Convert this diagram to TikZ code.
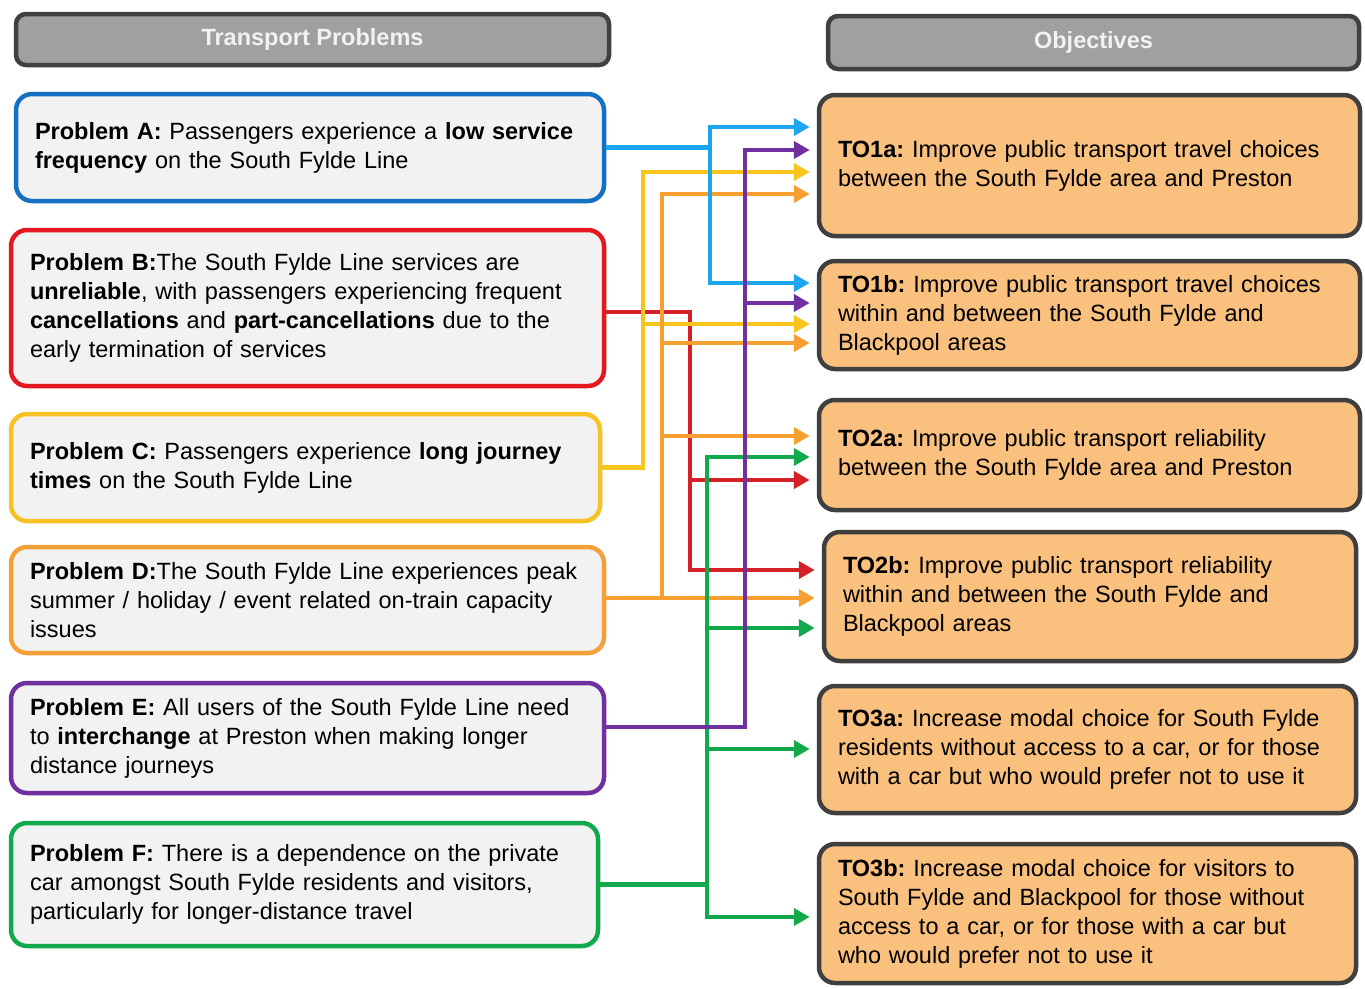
\documentclass[tikz,border=0pt]{standalone}
\usepackage{fontspec}
\setmainfont{Liberation Sans}
\usetikzlibrary{arrows.meta,calc}
\frenchspacing
\definecolor{hdrfill}{HTML}{A0A0A0}
\definecolor{hdrline}{HTML}{404040}
\definecolor{lfill}{HTML}{F2F2F2}
\definecolor{rfill}{HTML}{FAC07E}
\definecolor{rline}{HTML}{3F3F3F}
\definecolor{cA}{HTML}{1570C4}
\definecolor{cB}{HTML}{E5171F}
\definecolor{cC}{HTML}{F6C224}
\definecolor{cD}{HTML}{F4A03A}
\definecolor{cE}{HTML}{7030A0}
\definecolor{cF}{HTML}{12A84C}
\definecolor{aA}{HTML}{1AA7F0}
\definecolor{aB}{HTML}{D42027}
\definecolor{aC}{HTML}{F8C51C}
\definecolor{aD}{HTML}{F79F30}
\definecolor{aE}{HTML}{7030A0}
\definecolor{aF}{HTML}{12A84C}
\begin{document}
\begin{tikzpicture}[x=1pt,y=-1pt,
  hdr/.style={draw=hdrline, fill=hdrfill, line width=4.5pt, rounded corners=10pt,
    text=white!95!black, font=\fontsize{23.5}{27}\selectfont\bfseries, inner sep=0pt},
  lbox/.style={fill=lfill, line width=4.5pt, rounded corners=16pt, inner sep=0pt,
    align=left, font=\fontsize{23.5}{29}\selectfont\frenchspacing},
  rbox/.style={draw=rline, fill=rfill, line width=4.5pt, rounded corners=16pt, inner sep=0pt,
    align=left, font=\fontsize{23.5}{29}\selectfont\frenchspacing},
  arr/.style={line width=4.5pt, -{Triangle[length=16pt,width=17pt]}, shorten >=7pt},
]
\useasboundingbox (0,0) rectangle (1365,988);
\fill[white] (0,0) rectangle (1365,988);

% headers
\node[hdr, minimum width=593pt, minimum height=51pt] (hP) at (312.5,39.5) {Transport Problems};
\node[hdr, minimum width=531pt, minimum height=53pt] (hO) at (1093.5,42.5) {Objectives};

% problem boxes
\node[lbox, draw=cA, minimum width=588pt, minimum height=107pt, text width=550pt] (pA) at (310,147.5)
 {\textbf{Problem A:} Passengers experience a \textbf{low service}\\\textbf{frequency} on the South Fylde Line};
\node[lbox, draw=cB, minimum width=593pt, minimum height=156pt, text width=555pt] (pB) at (307.5,308)
 {\textbf{Problem B:}The South Fylde Line services are\\\textbf{unreliable}, with passengers experiencing frequent\\\textbf{cancellations} and \textbf{part-cancellations} due to the\\early termination of services};
\node[lbox, draw=cC, minimum width=589pt, minimum height=107pt, text width=551pt] (pC) at (305.5,467.5)
 {\textbf{Problem C:} Passengers experience \textbf{long journey}\\\textbf{times} on the South Fylde Line};
\node[lbox, draw=cD, minimum width=593pt, minimum height=106pt, text width=555pt] (pD) at (307.5,600)
 {\textbf{Problem D:}The South Fylde Line experiences peak\\summer / holiday / event related on-train capacity\\issues};
\node[lbox, draw=cE, minimum width=593pt, minimum height=110pt, text width=555pt] (pE) at (307.5,738)
 {\textbf{Problem E:} All users of the South Fylde Line need\\to \textbf{interchange} at Preston when making longer\\distance journeys};
\node[lbox, draw=cF, minimum width=587pt, minimum height=123pt, text width=549pt] (pF) at (304.5,884.5)
 {\textbf{Problem F:} There is a dependence on the private\\car amongst South Fylde residents and visitors,\\particularly for longer-distance travel};

% objective boxes
\node[rbox, minimum width=541pt, minimum height=141pt, text width=503pt] (o1a) at (1089.5,165.5)
 {\textbf{TO1a:} Improve public transport travel choices\\between the South Fylde area and Preston};
\node[rbox, minimum width=541pt, minimum height=108pt, text width=503pt] (o1b) at (1089.5,315)
 {\textbf{TO1b:} Improve public transport travel choices\\within and between the South Fylde and\\Blackpool areas};
\node[rbox, minimum width=541pt, minimum height=110pt, text width=503pt] (o2a) at (1089.5,455)
 {\textbf{TO2a:} Improve public transport reliability\\between the South Fylde area and Preston};
\node[rbox, minimum width=532pt, minimum height=129pt, text width=494pt] (o2b) at (1090,596.5)
 {\textbf{TO2b:} Improve public transport reliability\\within and between the South Fylde and\\Blackpool areas};
\node[rbox, minimum width=537pt, minimum height=127pt, text width=499pt] (o3a) at (1087.5,749.5)
 {\textbf{TO3a:} Increase modal choice for South Fylde\\residents without access to a car, or for those\\with a car but who would prefer not to use it};
\node[rbox, minimum width=537pt, minimum height=139pt, text width=499pt] (o3b) at (1087.5,913.5)
 {\textbf{TO3b:} Increase modal choice for visitors to\\South Fylde and Blackpool for those without\\access to a car, or for those with a car but\\who would prefer not to use it};

% trunk coordinates
\coordinate (a1) at (710,127);  \coordinate (a2) at (710,283);
\coordinate (b1) at (690,480);  \coordinate (b2) at (690,570);
\coordinate (c1) at (643,172);  \coordinate (c2) at (643,324);
\coordinate (d1) at (662,194);  \coordinate (d2) at (662,343);  \coordinate (d3) at (662,436);
\coordinate (e1) at (745,150);  \coordinate (e2) at (745,303);
\coordinate (f1) at (707,457);  \coordinate (f2) at (707,628);  \coordinate (f3) at (707,749);  \coordinate (f4) at (707,917);

% red (B)
\draw[arr,aB] ([yshift=-4pt]pB.east) -| (b1) -- (b1 -| o2a.west);
\draw[arr,aB] ([yshift=-4pt]pB.east) -| (b2) -- (b2 -| o2b.west);
% yellow (C)
\draw[arr,aC] (pC.east) -| (c1) -- (c1 -| o1a.west);
\draw[arr,aC] (pC.east) -| (c2) -- (c2 -| o1b.west);
% orange (D)
\draw[arr,aD] ([yshift=2pt]pD.east) -| (d1) -- (d1 -| o1a.west);
\draw[arr,aD] ([yshift=2pt]pD.east) -| (d2) -- (d2 -| o1b.west);
\draw[arr,aD] ([yshift=2pt]pD.east) -| (d3) -- (d3 -| o2a.west);
\draw[arr,aD] ([yshift=2pt]pD.east) -- ([yshift=2pt]pD.east -| o2b.west);
% blue (A)
\draw[arr,aA] (pA.east) -| (a1) -- (a1 -| o1a.west);
\draw[arr,aA] (pA.east) -| (a2) -- (a2 -| o1b.west);
% green (F)
\draw[arr,aF] (pF.east) -| (f1) -- (f1 -| o2a.west);
\draw[arr,aF] (pF.east) -| (f2) -- (f2 -| o2b.west);
\draw[arr,aF] (pF.east) -| (f3) -- (f3 -| o3a.west);
\draw[arr,aF] (pF.east) -| (f4) -- (f4 -| o3b.west);
% purple (E)
\draw[arr,aE] ([yshift=11pt]pE.east) -| (e1) -- (e1 -| o1a.west);
\draw[arr,aE] ([yshift=11pt]pE.east) -| (e2) -- (e2 -| o1b.west);
\end{tikzpicture}
\end{document}
